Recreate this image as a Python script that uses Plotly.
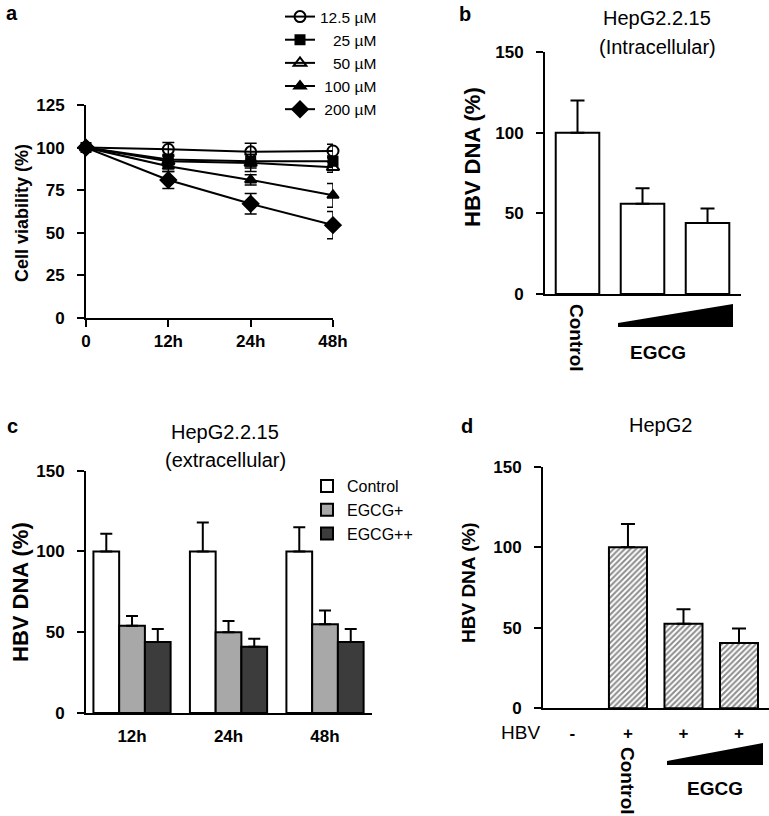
import plotly.graph_objects as go

W, H = 769, 816
def px(x): return x / W
def py(y): return 1 - y / H

FONT = "Liberation Sans, Arial, sans-serif"

# ---------------- Panel a data ----------------
time_labels = ["0", "12h", "24h", "48h"]
time_pos = [0, 1, 2, 3]
conc_labels = ["12.5 µM", "\u00a0\u00a0\u00a025 µM", "\u00a0\u00a0\u00a050 µM", "\u00a0100 µM", "\u00a0200 µM"]
via_12_5 = [100, 99, 97.5, 98]
via_25 = [100, 93, 92, 92]
via_50 = [100, 92, 91, 88.5]
via_100 = [100, 89, 81, 72]
via_200 = [100, 81, 67, 54.5]
err_12_5 = [1, 4, 5, 4]
err_25 = [1, 3, 4, 3]
err_50 = [1, 3, 5, 3]
err_100 = [1, 3, 3, 7]
err_200 = [1, 5, 6, 8]

# ---------------- Panel b data ----------------
b_pos = [0, 1, 2]
b_vals = [100, 56, 44]
b_err = [20, 9.5, 9]

# ---------------- Panel c data ----------------
c_groups = ["12h", "24h", "48h"]
c_pos = [0, 1, 2]
c_control = [100, 100, 100]
c_control_err = [11, 18, 15]
c_egcg1 = [54, 50, 55]
c_egcg1_err = [6, 7, 8.5]
c_egcg2 = [44, 41, 44]
c_egcg2_err = [8, 5, 8]

# ---------------- Panel d data ----------------
d_tick_pos = [0, 1, 2, 3]
d_tick_text = ["-", "+", "+", "+"]
d_pos = [1, 2, 3]
d_vals = [100, 52.5, 40.5]
d_err = [14.5, 9, 9]

fig = go.Figure()

# Panel a
series_a = [
    (via_12_5, err_12_5, "circle-open", 11),
    (via_25, err_25, "square", 9),
    (via_50, err_50, "triangle-up-open", 11),
    (via_100, err_100, "triangle-up", 10),
    (via_200, err_200, "diamond", 12),
]
for (vals, errs, sym, sz), name in zip(series_a, conc_labels):
    fig.add_trace(go.Scatter(
        x=time_pos, y=vals, name=name, mode="lines+markers",
        line=dict(color="black", width=2),
        marker=dict(symbol=sym, size=sz, color="black", line=dict(color="black", width=2)),
        error_y=dict(type="data", array=errs, visible=True, color="black", thickness=1.5, width=6),
        xaxis="x", yaxis="y", cliponaxis=False, legend="legend",
    ))

# Panel b
fig.add_trace(go.Bar(
    x=b_pos, y=b_vals, width=0.67, marker=dict(color="white", line=dict(color="black", width=2)),
    error_y=dict(type="data", array=b_err, arrayminus=[0, 0, 0], visible=True, color="black", thickness=2, width=7),
    xaxis="x2", yaxis="y2", showlegend=False,
))

# Panel c
c_series = [
    ("Control", c_control, c_control_err, "white", -0.4),
    ("EGCG+", c_egcg1, c_egcg1_err, "#a8a8a8", -0.1333),
    ("EGCG++", c_egcg2, c_egcg2_err, "#3c3c3c", 0.1333),
]
for name, vals, errs, col, off in c_series:
    fig.add_trace(go.Bar(
        x=c_pos, y=vals, name=name, width=0.2667, offset=off,
        marker=dict(color=col, line=dict(color="black", width=2)),
        error_y=dict(type="data", array=errs, arrayminus=[0, 0, 0], visible=True, color="black", thickness=2, width=6),
        xaxis="x3", yaxis="y3", legend="legend2",
    ))

# Panel d
fig.add_trace(go.Bar(
    x=d_pos, y=d_vals, width=0.685,
    marker=dict(color="white", line=dict(color="black", width=2),
                pattern=dict(shape="/", fgcolor="#1a1a1a", bgcolor="white", size=4, solidity=0.5)),
    error_y=dict(type="data", array=d_err, arrayminus=[0, 0, 0], visible=True, color="black", thickness=2, width=7),
    xaxis="x4", yaxis="y4", showlegend=False,
))

tickfont = dict(family=FONT, size=17, color="black", weight="bold")
common_y = dict(showline=True, linewidth=2, linecolor="black", ticks="outside", ticklen=7, tickwidth=2,
                tickcolor="black", showgrid=False, zeroline=False, tickfont=tickfont, ticklabelstandoff=9)
common_x = dict(showline=True, linewidth=2, linecolor="black", showgrid=False, zeroline=False, tickfont=tickfont)

fig.update_layout(
    width=W, height=H, margin=dict(l=0, r=0, t=0, b=0, autoexpand=False),
    paper_bgcolor="white", plot_bgcolor="white", barmode="overlay",
    font=dict(family=FONT, color="black"),
    xaxis=dict(domain=[px(86), px(333)], range=[0, 3], anchor="y", tickvals=time_pos, ticktext=time_labels,
               ticks="outside", ticklen=7, tickwidth=2, tickcolor="black", ticklabelstandoff=0, **common_x),
    yaxis=dict(domain=[py(318), py(105)], range=[0, 125], anchor="x", tickvals=[0, 25, 50, 75, 100, 125], **common_y),
    xaxis2=dict(domain=[px(545), px(741)], range=[-0.5, 2.515], anchor="y2", showticklabels=False, ticks="", **common_x),
    yaxis2=dict(domain=[py(294), py(52)], range=[0, 150], anchor="x2", tickvals=[0, 50, 100, 150], **common_y),
    xaxis3=dict(domain=[px(86), px(372)], range=[-0.477, 2.487], anchor="y3", tickvals=c_pos, ticktext=c_groups,
                ticks="", ticklabelstandoff=7, **common_x),
    yaxis3=dict(domain=[py(713), py(470.7)], range=[0, 150], anchor="x3", tickvals=[0, 50, 100, 150], **common_y),
    xaxis4=dict(domain=[px(543), 1.0], range=[-0.53, 3.54], anchor="y4", tickvals=d_tick_pos, ticktext=d_tick_text,
                ticks="", ticklabelstandoff=8, **common_x),
    yaxis4=dict(domain=[py(708.3), py(466.7)], range=[0, 150], anchor="x4", tickvals=[0, 50, 100, 150], **common_y),
    legend=dict(x=px(280), y=1.0, xanchor="left", yanchor="top", bgcolor="rgba(0,0,0,0)",
                font=dict(family=FONT, size=15.5, color="black"), tracegroupgap=0, itemwidth=30),
    legend2=dict(x=px(307), y=py(469), xanchor="left", yanchor="top", bgcolor="rgba(0,0,0,0)",
                 font=dict(family=FONT, size=16, color="black"), tracegroupgap=0, itemwidth=30),
)

def ann(text, x, y, size, bold=False, angle=0, yanchor="middle"):
    fig.add_annotation(text=text, x=px(x), y=py(y), xref="paper", yref="paper", showarrow=False,
                       textangle=angle, xanchor="center", yanchor=yanchor,
                       font=dict(family=FONT, size=size, color="black", weight="bold" if bold else "normal"))

# panel letters
ann("a", 12, 0, 20, True, yanchor="top")
ann("b", 465, 1, 20, True, yanchor="top")
ann("c", 12, 426, 20, True)
ann("d", 467, 426, 20, True)
# titles
ann("HepG2.2.15", 657, 18, 20)
ann("(Intracellular)", 657, 47, 20)
ann("HepG2.2.15", 225, 432, 20)
ann("(extracellular)", 225, 460, 20)
ann("HepG2", 660, 425, 20)
# y-axis titles
ann("Cell viability (%)", 22, 213, 18, True, -90)
ann("HBV DNA (%)", 472, 157, 22, True, -90)
ann("HBV DNA (%)", 20, 592, 22, True, -90)
ann("HBV DNA (%)", 468, 583, 19, True, -90)
# category labels
ann("Control", 577, 338, 19, True, 90)
ann("EGCG", 658, 352, 19, True)
ann("Control", 628, 781, 19, True, 90)
ann("EGCG", 715, 788, 19, True)
ann("HBV", 520, 732, 19, False)

def wedge(x0, x1, ytip_top, ytop, ybot):
    path = (f"M {px(x0)},{py(ytip_top)} L {px(x1)},{py(ytop)} L {px(x1)},{py(ybot)} "
            f"L {px(x0)},{py(ybot)} Z")
    fig.add_shape(type="path", path=path, xref="paper", yref="paper", fillcolor="black", line=dict(width=0))

wedge(618, 733, 323, 304, 327)
wedge(667, 763, 761, 743, 765)

fig.write_html("out.html", config={"displayModeBar": False},
               post_script="document.body.style.margin='0';")
